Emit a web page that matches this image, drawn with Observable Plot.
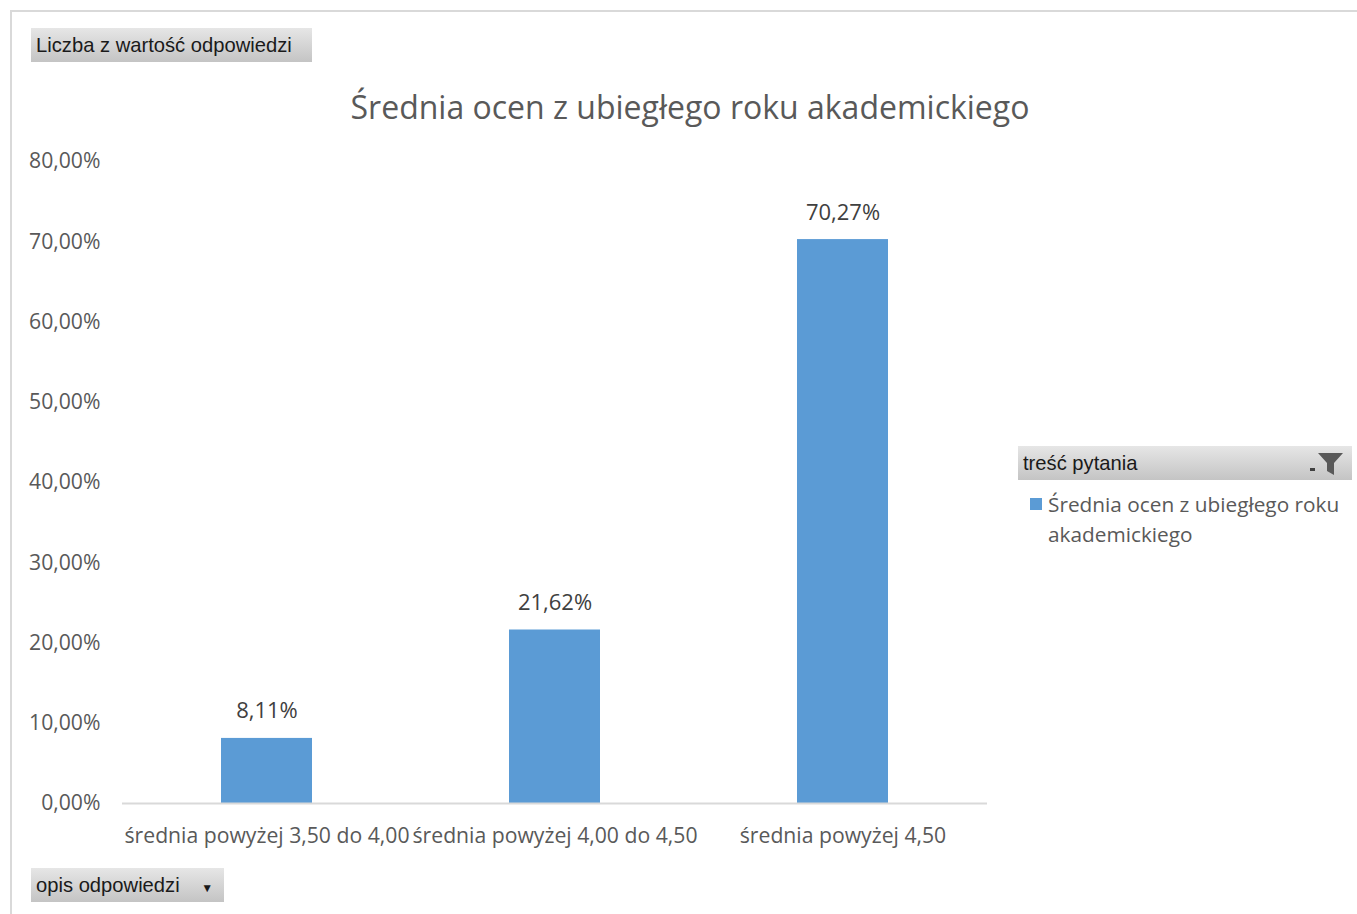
<!DOCTYPE html>
<html>
<head>
<meta charset="utf-8">
<script src="https://cdn.jsdelivr.net/npm/d3@7"></script>
<script src="https://cdn.jsdelivr.net/npm/@observablehq/plot@0.6"></script>
<style>
  html, body { margin: 0; padding: 0; background: #fff; }
  #page { position: relative; width: 1357px; height: 914px; overflow: hidden; font-family: "Open Sans", sans-serif; }
  #frame { position: absolute; left: 10px; top: 10px; width: 1360px; height: 920px; border-left: 2px solid #d9d9d9; border-top: 2px solid #d9d9d9; }
  .btn { position: absolute; background: linear-gradient(#e6e6e6, #c4c4c4); color: #1a1a1a; font-family: "Liberation Sans", sans-serif; font-size: 20.2px; box-sizing: border-box; padding-left: 5px; line-height: 34px; white-space: nowrap; }
  #title { position: absolute; left: 0; width: 1380px; top: 85px; text-align: center; font-size: 32px; color: #595959; }
  #chart { position: absolute; left: 0; top: 141px; }
  #legendItem { position: absolute; left: 1030px; top: 490px; font-size: 20.8px; color: #595959; line-height: 30px; }
  #legendItem .sw { position: absolute; left: 0; top: 8px; width: 12px; height: 12px; background: #5B9BD5; }
  #legendItem .tx { position: absolute; left: 18px; top: -1px; white-space: nowrap; }
</style>
</head>
<body>
<div id="page">
  <div id="frame"></div>
  <div class="btn" style="left:31px; top:28px; width:281px; height:34px;">Liczba z wartość odpowiedzi</div>
  <div class="btn" style="left:31px; top:868px; width:193px; height:34px;">opis odpowiedzi <span style="font-size:12px; margin-left:16px;">▼</span></div>
  <div class="btn" style="left:1018px; top:446px; width:334px; height:34px;">treść pytania
    <svg style="position:absolute; right:8px; top:6px;" width="34" height="24" viewBox="0 0 34 24">
      <rect x="0" y="16" width="5" height="3" fill="#404040"/>
      <path d="M8 1 L33 1 L24 11 L24 23 L17 19 L17 11 Z" fill="#595959"/>
    </svg>
  </div>
  <div id="title">Średnia ocen z ubiegłego roku akademickiego</div>
  <div id="chart"></div>
  <div id="legendItem"><div class="sw"></div><div class="tx">Średnia ocen z ubiegłego roku<br>akademickiego</div></div>
</div>
<script>
const categories = ["średnia powyżej 3,50 do 4,00", "średnia powyżej 4,00 do 4,50", "średnia powyżej 4,50"];
const values = [8.11, 21.62, 70.27];
const yTicks = [0, 10, 20, 30, 40, 50, 60, 70, 80];
const seriesName = "Średnia ocen z ubiegłego roku akademickiego";

const data = categories.map((c, i) => ({ category: c, value: values[i] }));
const fmt = v => v.toFixed(2).replace(".", ",") + "%";

const chart = Plot.plot({
  width: 1000,
  height: 730,
  marginLeft: 122,
  marginRight: 13,
  marginTop: 20,
  marginBottom: 68,
  style: { fontFamily: "Open Sans, sans-serif", fontSize: "21.2px", color: "#595959", background: "transparent" },
  x: { domain: categories, paddingInner: 0.685, paddingOuter: 0.3425, label: null, tickSize: 0, tickPadding: 24 },
  y: { domain: [0, 80], ticks: yTicks, tickFormat: fmt, label: null, tickSize: 0, tickPadding: 22 },
  marks: [
    Plot.barY(data, { x: "category", y: "value", fill: "#5B9BD5" }),
    Plot.ruleY([0], { stroke: "#d9d9d9", strokeWidth: 2 }),
    Plot.text(data, { x: "category", y: "value", text: d => fmt(d.value), dy: -27, fill: "#404040", fontSize: 22 })
  ]
});
document.getElementById("chart").appendChild(chart);
</script>
</body>
</html>
